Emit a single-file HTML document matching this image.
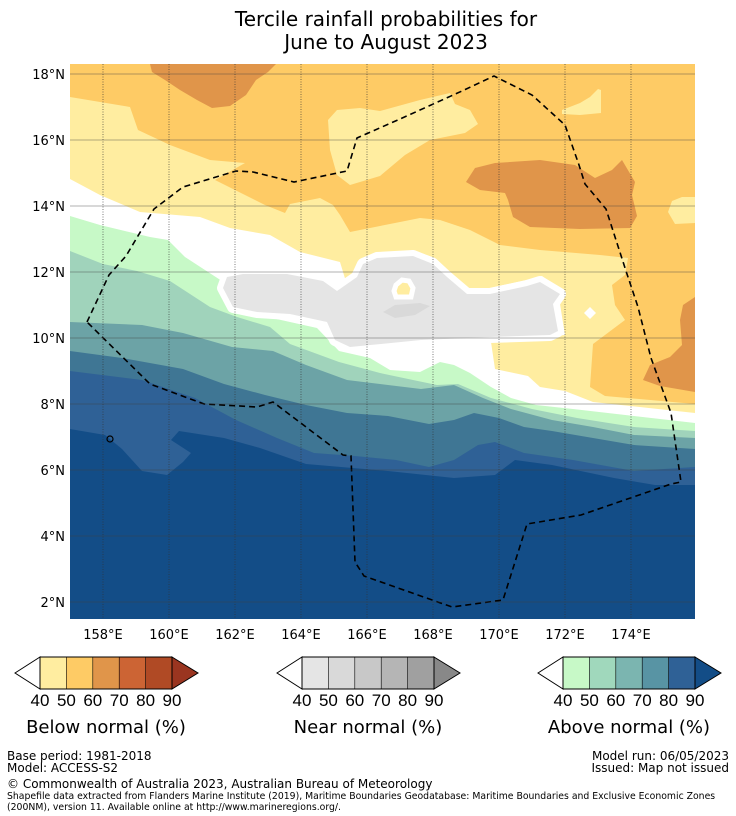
<!DOCTYPE html>
<html><head><meta charset="utf-8"><style>
body{margin:0;background:#fff;width:736px;height:816px;overflow:hidden;font-family:"DejaVu Sans",sans-serif}
svg{position:absolute;left:0;top:0}
</style></head><body>
<svg id="s" width="736" height="816" viewBox="0 0 736 816" xmlns="http://www.w3.org/2000/svg">
<text x="386" y="26" font-size="20" text-anchor="middle">Tercile rainfall probabilities for</text>
<text x="386" y="49" font-size="20" text-anchor="middle">June to August 2023</text>
<defs><clipPath id="mc"><rect x="70" y="64" width="625" height="555"/></clipPath></defs>
<g id="map" clip-path="url(#mc)"></g>
<g id="grid"></g>
<g id="axes"></g>
<g id="cbars"></g>
<g font-size="12">
<text x="7" y="760">Base period: 1981-2018</text>
<text x="7" y="772">Model: ACCESS-S2</text>
<text x="729" y="760" text-anchor="end">Model run: 06/05/2023</text>
<text x="729" y="772" text-anchor="end">Issued: Map not issued</text>
<text x="7" y="788">© Commonwealth of Australia 2023, Australian Bureau of Meteorology</text>
<text x="7" y="799" font-size="9.3">Shapefile data extracted from Flanders Marine Institute (2019), Maritime Boundaries Geodatabase: Maritime Boundaries and Exclusive Economic Zones</text>
<text x="7" y="810" font-size="9.3">(200NM), version 11. Available online at http://www.marineregions.org/.</text>
</g>
</svg>
<script>
const lonTicks=[158,160,162,164,166,168,170,172,174];
const latTicks=[2,4,6,8,10,12,14,16,18];
const cbLevels=[40,50,60,70,80,90];
const belowColors=["#ffeda0","#fecb65","#e0954a","#cc6434","#b04a25"];
const nearColors=["#e5e5e5","#d9d9d9","#c8c8c8","#b5b5b5","#a0a0a0"];
const aboveColors=["#c7f9c7","#a0d8bc","#7bb5b0","#5894a4","#2f6196"];
const cbTitles=["Below normal (%)","Near normal (%)","Above normal (%)"];
// contour outlines (image-grid coordinates of the map)
const bgOrange=[[70,64],[695,64],[695,619],[70,619]];
const darkTop=[[150,64],[276,64],[268,72],[256,80],[246,95],[230,106],[212,108],[197,100],[180,90],[165,80],[152,72]];
const darkRight=[[466,182],[475,168],[495,163],[540,160],[575,165],[595,178],[612,170],[622,160],[635,182],[632,195],[637,216],[630,228],[580,229],[530,227],[513,217],[508,200],[505,193],[480,190]];
const darkRight2=[[695,297],[683,305],[680,320],[682,345],[670,357],[650,365],[643,380],[660,386],[695,392]];
const yellowMain=[[70,97],[130,107],[138,130],[170,145],[210,160],[245,163],[215,180],[235,190],[265,205],[285,213],[290,204],[320,198],[333,205],[340,215],[350,232],[380,226],[400,222],[420,218],[440,220],[470,230],[500,245],[540,250],[600,255],[628,258],[625,275],[612,285],[615,305],[625,320],[605,335],[593,344],[590,387],[605,396],[695,404],[695,619],[70,619]];
const yellowMid=[[328,120],[337,110],[360,108],[380,111],[420,100],[450,93],[455,104],[470,110],[478,124],[465,133],[430,140],[405,155],[380,176],[350,185],[337,175],[330,150]];
const yellowTR=[[562,110],[580,103],[590,97],[598,89],[601,90],[601,113],[580,115],[562,114]];
const yellowR=[[668,212],[672,201],[682,197],[695,197],[695,223],[675,224]];
const whiteTop=[[70,179],[100,195],[140,212],[200,217],[230,228],[270,235],[300,252],[340,262],[347,285],[352,285],[360,265],[375,258],[395,254],[413,250],[435,258],[450,272],[468,288],[490,288],[527,280],[542,276],[566,294],[560,304],[565,335],[491,342],[495,369],[528,376],[540,387],[565,391],[593,402],[695,413],[695,619],[70,619]];
const green1=[[70,216],[100,225],[150,237],[168,240],[185,257],[205,270],[225,283],[232,300],[240,310],[263,316],[317,328],[339,351],[370,358],[390,370],[420,372],[440,362],[454,365],[470,373],[491,387],[511,398],[536,405],[573,409],[634,416],[695,423],[695,619],[70,619]];
const green2=[[70,251],[103,264],[137,271],[170,281],[190,294],[210,307],[237,317],[270,327],[290,344],[339,362],[380,373],[413,380],[437,385],[458,384],[491,398],[532,409],[577,418],[634,427],[695,431],[695,619],[70,619]];
const green3=[[70,322],[142,325],[183,333],[232,347],[273,351],[306,365],[347,380],[388,385],[421,389],[454,385],[483,398],[511,409],[552,420],[593,427],[634,435],[695,438],[695,619],[70,619]];
const blue4=[[70,351],[122,358],[183,369],[224,384],[265,395],[306,405],[347,413],[388,416],[429,424],[454,420],[474,413],[499,418],[524,427],[552,431],[593,438],[634,445],[695,449],[695,619],[70,619]];
const blue5=[[70,371],[142,380],[195,398],[236,420],[277,438],[314,453],[355,456],[396,460],[429,467],[454,460],[478,445],[495,442],[524,453],[573,460],[634,471],[695,467],[695,619],[70,619]];
const blue6=[[70,429],[105,435],[122,449],[142,471],[167,475],[183,462],[191,453],[171,440],[179,431],[224,438],[260,448],[306,464],[388,471],[454,478],[495,475],[515,460],[552,465],[614,478],[655,485],[695,485],[695,619],[70,619]];
const grayBlob=[[223,288],[227,277],[243,274],[287,274],[323,281],[337,291],[357,277],[363,264],[377,258],[413,256],[433,264],[447,277],[467,294],[490,294],[527,286],[540,282],[560,294],[553,304],[558,331],[550,335],[490,337],[421,340],[350,347],[335,340],[327,322],[290,314],[257,312],[233,307]];
const grayDark=[[383,312],[395,305],[420,303],[430,306],[415,315],[395,318]];
const yellowHole=[[396,285],[402,280],[409,281],[413,288],[411,297],[396,297],[394,291]];
const eez=[[87,322],[109,275],[126,256],[154,209],[183,187],[236,171],[253,172],[294,182],[347,171],[357,138],[409,115],[462,91],[494,76],[532,95],[565,125],[579,165],[585,184],[606,209],[626,271],[638,307],[651,358],[671,413],[681,482],[671,484],[581,515],[527,524],[503,600],[452,607],[364,576],[355,562],[351,456],[343,455],[273,402],[257,407],[204,404],[150,384],[87,322]];

const NS="http://www.w3.org/2000/svg";
const X=lon=>103+(lon-158)*33;
const Y=lat=>74+(18-lat)*33;
const P=pts=>pts.map(p=>p[0]+","+p[1]).join(" ");
function mk(tag,attrs,parent){const e=document.createElementNS(NS,tag);for(const k in attrs)e.setAttribute(k,attrs[k]);parent.appendChild(e);return e;}
const map=document.getElementById("map");
const layers=[[bgOrange,"#fecb65","background-50-60-below"],[darkTop,"#e0954a","below-60-70-north"],[yellowMain,"#ffeda0","below-40-50-band"],[yellowMid,"#ffeda0","below-40-50-central"],[yellowTR,"#ffeda0","below-40-50-northeast"],[yellowR,"#ffeda0","below-40-50-east"],[darkRight,"#e0954a","below-60-70-east"],[whiteTop,"#ffffff","no-dominant-tercile"],[darkRight2,"#e0954a","below-60-70-southeast"],[green1,"#c7f9c7","above-40-50"],[green2,"#a0d3bb","above-50-60"],[green3,"#6ca3a6","above-60-70"],[blue4,"#3f7694","above-70-80"],[blue5,"#2f6196","above-80-90"],[blue6,"#134d87","above-90-plus"]];
layers.forEach(l=>{const e=mk("polygon",{points:P(l[0]),fill:l[1]},map);

});
const ring=mk("polygon",{points:P(grayBlob),fill:"#e5e5e5",stroke:"#fff","stroke-width":12,"stroke-linejoin":"round"},map);


const gb=mk("polygon",{points:P(grayBlob),fill:"#e5e5e5"},map);


const gd=mk("polygon",{points:P(grayDark),fill:"#d9d9d9"},map);


const yh=mk("polygon",{points:P(yellowHole),fill:"#ffeda0",stroke:"#fff","stroke-width":5},map);


const dm=mk("polygon",{points:"590,307 596,313 590,319 584,313",fill:"#fff"},map);


const ez=mk("polyline",{points:P(eez),fill:"none",stroke:"#000","stroke-width":1.6,"stroke-dasharray":"6,4"},map);


const island=mk("circle",{cx:110,cy:439,r:3,fill:"none",stroke:"#000","stroke-width":1.2},map);



const grid=document.getElementById("grid"),axes=document.getElementById("axes");
lonTicks.forEach(l=>{const g=mk("line",{x1:X(l),x2:X(l),y1:64,y2:619,stroke:"#333","stroke-width":0.8,"stroke-dasharray":"1,1.5","stroke-opacity":0.8},grid);


const t=mk("text",{x:X(l),y:639,"font-size":13,"text-anchor":"middle"},axes);t.textContent=l+"°E";

});
latTicks.forEach(l=>{const g=mk("line",{x1:70,x2:695,y1:Y(l),y2:Y(l),stroke:"#444","stroke-width":0.8,"stroke-opacity":0.55},grid);


const t=mk("text",{x:65,y:Y(l)+5,"font-size":13,"text-anchor":"end"},axes);t.textContent=l+"°N";

});

const cb=document.getElementById("cbars");
const cbSets=[[belowColors,"#9a3520",15],[nearColors,"#888888",277],[aboveColors,"#134d87",538]];
cbSets.forEach((s,i)=>{const x0=s[2],bw=26.4,bx=x0+25,top=657,bot=689,mid=673;
const lt=mk("polygon",{points:`${x0},${mid} ${bx},${top} ${bx},${bot}`,fill:"#fff",stroke:"#000","stroke-width":1},cb);


s[0].forEach((c,j)=>{const r=mk("rect",{x:bx+j*bw,y:top,width:bw,height:bot-top,fill:c},cb);

});
const ex=bx+5*bw;
const rt=mk("polygon",{points:`${ex},${top} ${ex+26},${mid} ${ex},${bot}`,fill:s[1],stroke:"#000","stroke-width":1},cb);


mk("rect",{x:bx,y:top,width:5*bw,height:bot-top,fill:"none",stroke:"#000","stroke-width":1},cb);
for(let j=1;j<5;j++)mk("line",{x1:bx+j*bw,x2:bx+j*bw,y1:top,y2:bot,stroke:"#000","stroke-width":0.6},cb);
cbLevels.forEach((v,j)=>{const t=mk("text",{x:bx+j*bw,y:706,"font-size":17,"text-anchor":"middle","font-family":"Liberation Sans, sans-serif"},cb);t.textContent=v;

});
const tt=mk("text",{x:bx+2.5*bw,y:733,"font-size":18,"text-anchor":"middle"},cb);tt.textContent=cbTitles[i];

});
</script>
</body></html>
